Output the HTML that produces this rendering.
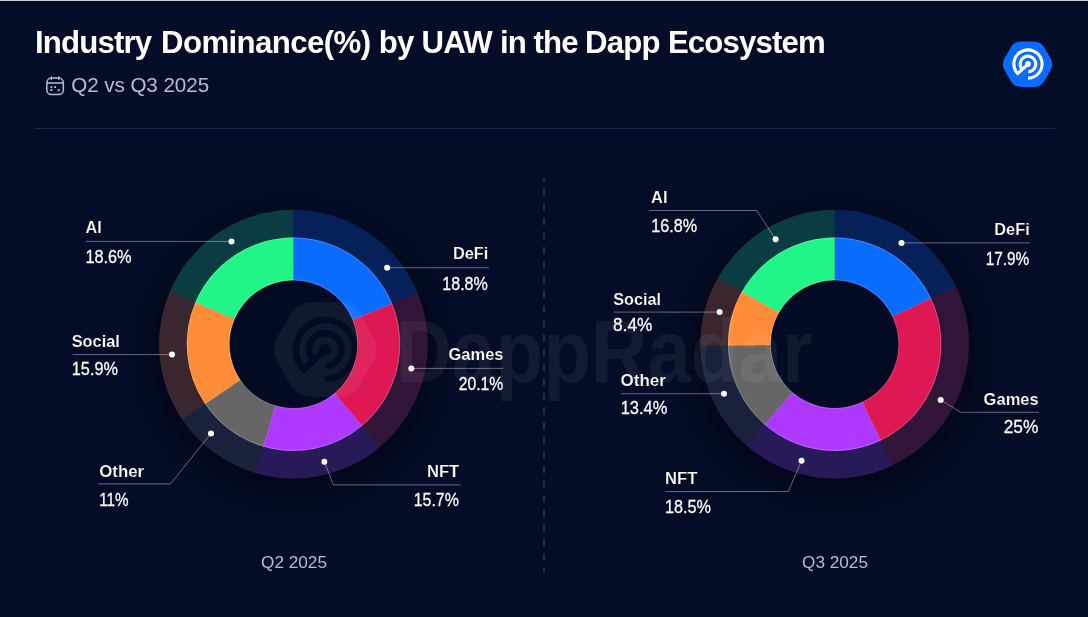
<!DOCTYPE html>
<html lang="en"><head><meta charset="utf-8"><title>Industry Dominance(%) by UAW in the Dapp Ecosystem</title>
<style>
html,body{margin:0;padding:0}
body{width:1088px;height:617px;overflow:hidden;background:#040d27;font-family:"Liberation Sans",sans-serif;color:#fff;position:relative}
.page{position:absolute;left:0;top:0;width:1088px;height:617px;overflow:hidden;background:#040d27}
.topline{position:absolute;left:0;top:0;width:1088px;height:1px;background:#c9ccd6}
h1{position:absolute;left:35px;top:24.7px;word-spacing:0.4px;margin:0;font-size:31.2px;line-height:36px;font-weight:700;white-space:nowrap;letter-spacing:-0.85px;color:#fff}
h1 span{letter-spacing:-0.6px}
h1 i{font-style:normal}
.sub{position:absolute;left:71.2px;top:72.9px;font-size:20.6px;line-height:24px;color:#b4bcd6;white-space:nowrap;letter-spacing:-0.05px}
.cal{position:absolute;left:45px;top:75.5px}
.logo{position:absolute;left:997.75px;top:34.3px}
.chart{position:absolute;left:0;top:0}
.chart text{font-family:"Liberation Sans",sans-serif;fill:#fff}
.chart text.n{font-size:17.1px;font-weight:700;stroke:#040d27;stroke-width:0.18px;paint-order:fill stroke}
.chart text.v{font-size:19.0px;font-weight:400;fill:#fbfcfe;stroke:#fff;stroke-width:0.28px}
.q{position:absolute;top:549.5px;width:200px;text-align:center;font-size:17.2px;line-height:24px;color:#b4bcd6}
</style></head><body>
<div class="page">
<div class="topline"></div>
<h1><i style="margin-right:1.6px">Industry</i> <span>Dominance(%)</span> by UAW <i style="margin-right:-0.8px">in</i> <i style="margin-right:-0.8px">the</i> Dapp Ecosystem</h1>
<svg class="cal" width="20" height="20" viewBox="0 0 20 20" fill="none" stroke="#b4bcd6" stroke-width="1.5" stroke-linecap="round"><rect x="1.85" y="2.1" width="16.5" height="16.5" rx="4.6"/><path d="M2 7.05H18.2M6.4 1.1V3.3M13.7 1.1V3.3"/><path d="M6.4 11.1h.01M10.1 11.1h.01M6.4 14h.01M13.7 14h.01" stroke-width="1.9" stroke-linecap="square"/></svg><div class="sub">Q2 vs Q3 2025</div>
<svg class="logo" width="60" height="60" viewBox="-30 -30 60 60"><path d="M-22.93 6.05Q-26.45 0.00 -22.93 -6.05L-16.74 -16.70Q-13.22 -22.75 -6.22 -22.75L6.22 -22.75Q13.22 -22.75 16.74 -16.70L22.93 -6.05Q26.45 0.00 22.93 6.05L16.74 16.70Q13.22 22.75 6.22 22.75L-6.22 22.75Q-13.22 22.75 -16.74 16.70Z" fill="#0a6cff" transform="translate(-0.45 0.2)"/><path d="M0.00 14.10A14.1 14.1 0 1 0 -10.31 9.62L0 0" fill="none" stroke="#fff" stroke-width="3.1" stroke-linecap="butt" stroke-linejoin="round"/><path d="M0.27 7.80A7.8 7.8 0 1 0 -5.80 5.22" fill="none" stroke="#fff" stroke-width="3.1" stroke-linecap="butt"/><circle cx="0" cy="0" r="2.9" fill="#fff"/></svg>
<svg class="chart" width="1088" height="617" viewBox="0 0 1088 617"><defs><filter id="blur" x="-30%" y="-30%" width="160%" height="160%"><feGaussianBlur stdDeviation="13"/></filter><mask id="wm" maskUnits="userSpaceOnUse" x="-30" y="-30" width="60" height="60"><path d="M-22.93 6.05Q-26.45 0.00 -22.93 -6.05L-16.74 -16.70Q-13.22 -22.75 -6.22 -22.75L6.22 -22.75Q13.22 -22.75 16.74 -16.70L22.93 -6.05Q26.45 0.00 22.93 6.05L16.74 16.70Q13.22 22.75 6.22 22.75L-6.22 22.75Q-13.22 22.75 -16.74 16.70Z" fill="#fff"/><path d="M0.00 14.10A14.1 14.1 0 1 0 -10.31 9.62L0 0" fill="none" stroke="#000" stroke-width="3.1" stroke-linecap="butt" stroke-linejoin="round"/><path d="M0.27 7.80A7.8 7.8 0 1 0 -5.80 5.22" fill="none" stroke="#000" stroke-width="3.1" stroke-linecap="butt"/><circle cx="0" cy="0" r="2.9" fill="#000"/></mask></defs><line x1="35" y1="128.5" x2="1055" y2="128.5" stroke="#1a2746" stroke-width="1"/><line x1="544" y1="177.5" x2="544" y2="572.6" stroke="#323c58" stroke-width="1.4" stroke-dasharray="7.2 7.4" stroke-dashoffset="3.5"/><mask id="m1" maskUnits="userSpaceOnUse" x="0" y="0" width="1088" height="617"><rect width="1088" height="617" fill="#fff"/><circle cx="293.45" cy="344.2" r="65.0" fill="#000"/></mask><g mask="url(#m1)"><circle cx="293.45" cy="354.2" r="136.4" fill="#01030c" opacity="0.62" filter="url(#blur)"/></g><path d="M293.45 209.80A134.4 134.4 0 0 1 418.03 293.77L391.89 304.35A106.2 106.2 0 0 0 293.45 238.00Z" fill="#062159"/><path d="M417.72 293.01A134.4 134.4 0 0 1 379.39 447.53L361.36 425.85A106.2 106.2 0 0 0 391.65 303.75Z" fill="#311439"/><path d="M380.02 447.01A134.4 134.4 0 0 1 254.80 472.92L262.91 445.91A106.2 106.2 0 0 0 361.86 425.43Z" fill="#281959"/><path d="M255.59 473.16A134.4 134.4 0 0 1 181.67 418.82L205.12 403.16A106.2 106.2 0 0 0 263.53 446.10Z" fill="#19213c"/><path d="M182.13 419.50A134.4 134.4 0 0 1 170.16 290.70L196.03 301.93A106.2 106.2 0 0 0 205.48 403.70Z" fill="#39262e"/><path d="M169.83 291.46A134.4 134.4 0 0 1 293.45 209.80L293.45 238.00A106.2 106.2 0 0 0 195.77 302.52Z" fill="#0a3c41"/><path d="M293.45 237.50A106.7 106.7 0 0 1 392.35 304.16L352.77 320.19A64.0 64.0 0 0 0 293.45 280.20Z" fill="#0a6cff"/><path d="M392.11 303.56A106.7 106.7 0 0 1 361.68 426.24L334.37 393.41A64.0 64.0 0 0 0 352.63 319.82Z" fill="#dd1853"/><path d="M362.18 425.82A106.7 106.7 0 0 1 262.76 446.39L275.04 405.50A64.0 64.0 0 0 0 334.67 393.16Z" fill="#ae38ff"/><path d="M263.39 446.58A106.7 106.7 0 0 1 204.71 403.44L240.22 379.73A64.0 64.0 0 0 0 275.42 405.61Z" fill="#666666"/><path d="M205.07 403.98A106.7 106.7 0 0 1 195.57 301.73L234.74 318.72A64.0 64.0 0 0 0 240.44 380.06Z" fill="#ff8c38"/><path d="M195.31 302.33A106.7 106.7 0 0 1 293.45 237.50L293.45 280.20A64.0 64.0 0 0 0 234.58 319.08Z" fill="#22f588"/><circle cx="293.45" cy="344.2" r="64.0" fill="#00020c" fill-opacity="0.1"/><line x1="293.45" y1="280.20" x2="293.45" y2="237.50" stroke="#fff" stroke-opacity="0.2" stroke-width="0.7"/><line x1="352.63" y1="319.82" x2="392.11" y2="303.56" stroke="#fff" stroke-opacity="0.2" stroke-width="0.7"/><line x1="334.67" y1="393.16" x2="362.18" y2="425.82" stroke="#fff" stroke-opacity="0.2" stroke-width="0.7"/><line x1="275.42" y1="405.61" x2="263.39" y2="446.58" stroke="#fff" stroke-opacity="0.2" stroke-width="0.7"/><line x1="240.44" y1="380.06" x2="205.07" y2="403.98" stroke="#fff" stroke-opacity="0.2" stroke-width="0.7"/><line x1="234.58" y1="319.08" x2="195.31" y2="302.33" stroke="#fff" stroke-opacity="0.2" stroke-width="0.7"/><circle cx="293.45" cy="344.2" r="106.3" fill="none" stroke="#fff" stroke-opacity="0.28" stroke-width="0.8"/><circle cx="293.45" cy="344.2" r="64.4" fill="none" stroke="#fff" stroke-opacity="0.28" stroke-width="0.8"/><mask id="m2" maskUnits="userSpaceOnUse" x="0" y="0" width="1088" height="617"><rect width="1088" height="617" fill="#fff"/><circle cx="834.7" cy="344.2" r="65.0" fill="#000"/></mask><g mask="url(#m2)"><circle cx="834.7" cy="354.2" r="136.4" fill="#01030c" opacity="0.62" filter="url(#blur)"/></g><path d="M834.70 209.80A134.4 134.4 0 0 1 956.30 286.95L930.78 298.97A106.2 106.2 0 0 0 834.70 238.00Z" fill="#062159"/><path d="M955.95 286.21A134.4 134.4 0 0 1 891.95 465.80L879.93 440.28A106.2 106.2 0 0 0 930.51 298.38Z" fill="#311439"/><path d="M892.69 465.45A134.4 134.4 0 0 1 745.84 445.03L764.48 423.87A106.2 106.2 0 0 0 880.52 440.01Z" fill="#281959"/><path d="M746.45 445.57A134.4 134.4 0 0 1 700.30 345.07L728.50 344.89A106.2 106.2 0 0 0 764.97 424.30Z" fill="#19213c"/><path d="M700.31 345.89A134.4 134.4 0 0 1 718.15 277.26L742.61 291.31A106.2 106.2 0 0 0 728.51 345.53Z" fill="#39262e"/><path d="M717.75 277.98A134.4 134.4 0 0 1 834.70 209.80L834.70 238.00A106.2 106.2 0 0 0 742.29 291.87Z" fill="#0a3c41"/><path d="M834.70 237.50A106.7 106.7 0 0 1 931.24 298.75L892.60 316.94A64.0 64.0 0 0 0 834.70 280.20Z" fill="#0a6cff"/><path d="M930.96 298.16A106.7 106.7 0 0 1 880.15 440.74L861.96 402.10A64.0 64.0 0 0 0 892.44 316.59Z" fill="#dd1853"/><path d="M880.74 440.46A106.7 106.7 0 0 1 764.15 424.25L792.38 392.21A64.0 64.0 0 0 0 862.31 401.94Z" fill="#ae38ff"/><path d="M764.64 424.68A106.7 106.7 0 0 1 728.00 344.89L770.70 344.61A64.0 64.0 0 0 0 792.68 392.47Z" fill="#666666"/><path d="M728.01 345.54A106.7 106.7 0 0 1 742.17 291.06L779.20 312.33A64.0 64.0 0 0 0 770.71 345.00Z" fill="#ff8c38"/><path d="M741.85 291.63A106.7 106.7 0 0 1 834.70 237.50L834.70 280.20A64.0 64.0 0 0 0 779.01 312.67Z" fill="#22f588"/><circle cx="834.7" cy="344.2" r="64.0" fill="#00020c" fill-opacity="0.1"/><line x1="834.70" y1="280.20" x2="834.70" y2="237.50" stroke="#fff" stroke-opacity="0.2" stroke-width="0.7"/><line x1="892.44" y1="316.59" x2="930.96" y2="298.16" stroke="#fff" stroke-opacity="0.2" stroke-width="0.7"/><line x1="862.31" y1="401.94" x2="880.74" y2="440.46" stroke="#fff" stroke-opacity="0.2" stroke-width="0.7"/><line x1="792.68" y1="392.47" x2="764.64" y2="424.68" stroke="#fff" stroke-opacity="0.2" stroke-width="0.7"/><line x1="770.71" y1="345.00" x2="728.01" y2="345.54" stroke="#fff" stroke-opacity="0.2" stroke-width="0.7"/><line x1="779.01" y1="312.67" x2="741.85" y2="291.63" stroke="#fff" stroke-opacity="0.2" stroke-width="0.7"/><circle cx="834.7" cy="344.2" r="106.3" fill="none" stroke="#fff" stroke-opacity="0.28" stroke-width="0.8"/><circle cx="834.7" cy="344.2" r="64.4" fill="none" stroke="#fff" stroke-opacity="0.28" stroke-width="0.8"/><g opacity="0.06" fill="#fff"><g transform="translate(325.3,349.5) scale(2.09)"><rect x="-30" y="-30" width="60" height="60" mask="url(#wm)"/></g><text x="395.5" y="381.5" font-family="'Liberation Sans',sans-serif" font-weight="700" font-size="89.5" textLength="417" lengthAdjust="spacingAndGlyphs">DappRadar</text></g><polyline points="86.0,241.4 231.5,241.4" fill="none" stroke="#fff" stroke-opacity="0.38" stroke-width="1"/><circle cx="231.5" cy="241.4" r="3" fill="#fff"/><text class="n" x="85.50" y="233.30" textLength="16.20" lengthAdjust="spacingAndGlyphs">AI</text><text class="v" x="85.40" y="263.00" textLength="46.20" lengthAdjust="spacingAndGlyphs">18.6%</text><polyline points="72.5,354.6 172.0,354.6" fill="none" stroke="#fff" stroke-opacity="0.38" stroke-width="1"/><circle cx="172" cy="354.6" r="3" fill="#fff"/><text class="n" x="71.70" y="346.50" textLength="48.10" lengthAdjust="spacingAndGlyphs">Social</text><text class="v" x="71.80" y="375.00" textLength="46.10" lengthAdjust="spacingAndGlyphs">15.9%</text><polyline points="98.2,483.9 170.5,483.9 211.0,433.5" fill="none" stroke="#fff" stroke-opacity="0.38" stroke-width="1"/><circle cx="211" cy="433.5" r="3" fill="#fff"/><text class="n" x="99.20" y="477.20" textLength="45.00" lengthAdjust="spacingAndGlyphs">Other</text><text class="v" x="99.20" y="505.60" textLength="29.40" lengthAdjust="spacingAndGlyphs">11%</text><polyline points="488.9,267.7 387.1,267.7" fill="none" stroke="#fff" stroke-opacity="0.38" stroke-width="1"/><circle cx="387.1" cy="267.7" r="3" fill="#fff"/><text class="n" x="452.90" y="259.40" textLength="35.50" lengthAdjust="spacingAndGlyphs">DeFi</text><text class="v" x="442.30" y="289.70" textLength="45.50" lengthAdjust="spacingAndGlyphs">18.8%</text><polyline points="503.4,368.4 411.3,368.4" fill="none" stroke="#fff" stroke-opacity="0.38" stroke-width="1"/><circle cx="411.3" cy="368.4" r="3" fill="#fff"/><text class="n" x="448.50" y="360.00" textLength="55.00" lengthAdjust="spacingAndGlyphs">Games</text><text class="v" x="458.70" y="390.30" textLength="44.50" lengthAdjust="spacingAndGlyphs">20.1%</text><polyline points="460.6,484.9 333.3,484.9 324.4,461.7" fill="none" stroke="#fff" stroke-opacity="0.38" stroke-width="1"/><circle cx="324.4" cy="461.7" r="3" fill="#fff"/><text class="n" x="426.90" y="477.20" textLength="32.30" lengthAdjust="spacingAndGlyphs">NFT</text><text class="v" x="413.70" y="505.60" textLength="45.20" lengthAdjust="spacingAndGlyphs">15.7%</text><polyline points="649.0,210.5 756.8,210.5 775.6,239.3" fill="none" stroke="#fff" stroke-opacity="0.38" stroke-width="1"/><circle cx="775.6" cy="239.3" r="3" fill="#fff"/><text class="n" x="651.10" y="202.60" textLength="16.40" lengthAdjust="spacingAndGlyphs">AI</text><text class="v" x="651.30" y="232.30" textLength="45.80" lengthAdjust="spacingAndGlyphs">16.8%</text><polyline points="613.5,312.1 719.6,312.1" fill="none" stroke="#fff" stroke-opacity="0.38" stroke-width="1"/><circle cx="719.6" cy="312.1" r="3" fill="#fff"/><text class="n" x="613.30" y="305.00" textLength="47.80" lengthAdjust="spacingAndGlyphs">Social</text><text class="v" x="613.10" y="331.00" textLength="39.20" lengthAdjust="spacingAndGlyphs">8.4%</text><polyline points="621.0,393.7 724.0,393.7" fill="none" stroke="#fff" stroke-opacity="0.38" stroke-width="1"/><circle cx="724" cy="393.7" r="3" fill="#fff"/><text class="n" x="620.50" y="385.90" textLength="45.40" lengthAdjust="spacingAndGlyphs">Other</text><text class="v" x="620.70" y="413.50" textLength="46.60" lengthAdjust="spacingAndGlyphs">13.4%</text><polyline points="665.2,491.5 788.3,491.5 801.5,460.8" fill="none" stroke="#fff" stroke-opacity="0.38" stroke-width="1"/><circle cx="801.5" cy="460.8" r="3" fill="#fff"/><text class="n" x="665.00" y="484.30" textLength="32.30" lengthAdjust="spacingAndGlyphs">NFT</text><text class="v" x="664.90" y="512.60" textLength="46.00" lengthAdjust="spacingAndGlyphs">18.5%</text><polyline points="1029.8,242.9 901.5,242.9" fill="none" stroke="#fff" stroke-opacity="0.38" stroke-width="1"/><circle cx="901.5" cy="242.9" r="3" fill="#fff"/><text class="n" x="994.30" y="234.70" textLength="35.40" lengthAdjust="spacingAndGlyphs">DeFi</text><text class="v" x="985.70" y="265.00" textLength="43.60" lengthAdjust="spacingAndGlyphs">17.9%</text><polyline points="1039.0,412.3 960.8,412.3 940.7,400.0" fill="none" stroke="#fff" stroke-opacity="0.38" stroke-width="1"/><circle cx="940.7" cy="400" r="3" fill="#fff"/><text class="n" x="983.60" y="404.60" textLength="55.10" lengthAdjust="spacingAndGlyphs">Games</text><text class="v" x="1003.70" y="432.90" textLength="34.60" lengthAdjust="spacingAndGlyphs">25%</text></svg>
<div class="q" style="left:194px">Q2 2025</div>
<div class="q" style="left:735px">Q3 2025</div>
</div>
</body></html>
